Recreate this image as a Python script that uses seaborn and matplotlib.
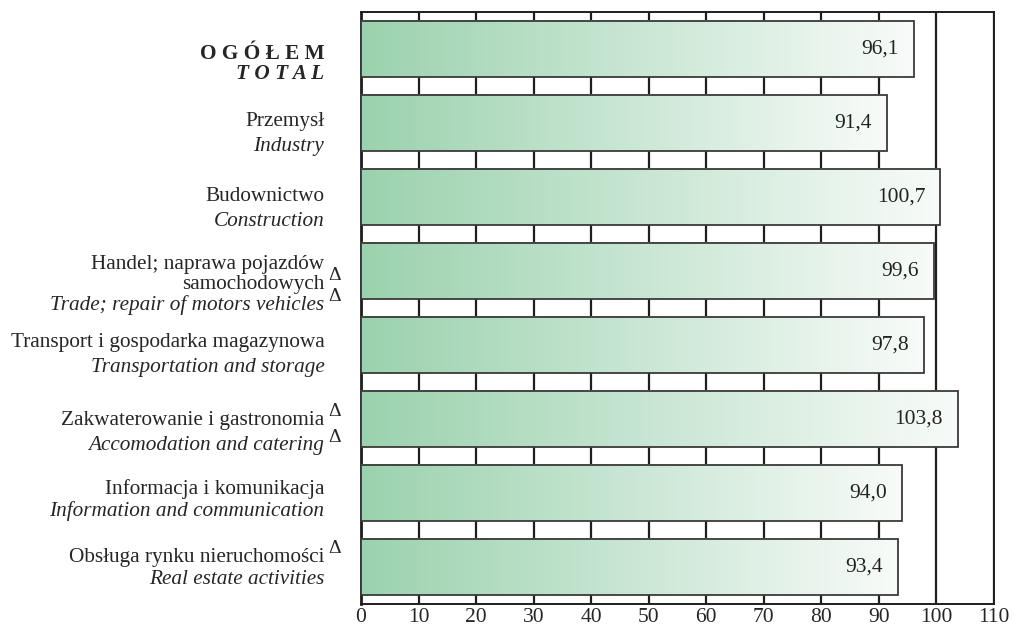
import numpy as np
import pandas as pd
import matplotlib
matplotlib.use('Agg')
import matplotlib.pyplot as plt
import seaborn as sns
from matplotlib.colors import LinearSegmentedColormap
from matplotlib.transforms import blended_transform_factory

# data
labels_pl = ['O G Ó Ł E M', 'Przemysł', 'Budownictwo',
             'Handel; naprawa pojazdów\nsamochodowych', 'Transport i gospodarka magazynowa',
             'Zakwaterowanie i gastronomia', 'Informacja i komunikacja',
             'Obsługa rynku nieruchomości']
labels_en = ['T O T A L', 'Industry', 'Construction', 'Trade; repair of motors vehicles',
             'Transportation and storage', 'Accomodation and catering',
             'Information and communication', 'Real estate activities']
values = [96.1, 91.4, 100.7, 99.6, 97.8, 103.8, 94.0, 93.4]
xticks = [0, 10, 20, 30, 40, 50, 60, 70, 80, 90, 100, 110]
delta_pl = [False, False, False, True, False, True, False, True]
delta_en = [False, False, False, True, False, True, False, False]

# vertical placement of the two label lines, in pixels from the bar centre
off_pl = [5, -1, 0, -6, -3, 1, -4, -10]
off_en = [25, 24, 25, 34, 22, 26, 18, 12]

sns.set_style('white')
plt.rcParams['font.family'] = ['Liberation Serif', 'DejaVu Serif']

df = pd.DataFrame({'sector': labels_pl, 'value': values})

fig = plt.figure(figsize=(10.14, 6.26), dpi=100)
ax = fig.add_axes([0.356, 0.035, 0.624, 0.946])

sns.barplot(data=df, x='value', y='sector', orient='h', width=0.757,
            color='white', edgecolor='#3a3a3a', linewidth=1.3, saturation=1, ax=ax)

# gradient fill inside every bar: green on the left, fading to white at the bar end
cmap = LinearSegmentedColormap.from_list('grn', ['#9bd2ae', '#f8fbf9'])
grad = np.linspace(0, 1, 256).reshape(1, -1)
for p in ax.patches:
    p.set_facecolor('none')
    p.set_zorder(4)
    x0, y0 = p.get_x(), p.get_y()
    w, h = p.get_width(), p.get_height()
    ax.imshow(grad, cmap=cmap, aspect='auto', extent=[x0, x0 + w, y0 + h, y0],
              zorder=3, interpolation='bilinear')

ax.set_xlim(0, 110)
ax.set_ylim(len(values) - 0.5, -0.5)
ax.set_xticks(xticks)
ax.set_xlabel('')
ax.set_ylabel('')
ax.set_yticks([])
ax.set_axisbelow(True)
ax.xaxis.grid(True, color='#1e1e1e', linewidth=1.6)
ax.tick_params(axis='x', length=0, labelsize=15.5, pad=3)
for s in ax.spines.values():
    s.set_visible(True)
    s.set_color('#1e1e1e')
    s.set_linewidth(1.4)
ax.spines['left'].set_linewidth(2)

# value labels
for i, v in enumerate(values):
    ax.text(v - 2.6, i, f'{v:.1f}'.replace('.', ','), ha='right', va='center',
            fontsize=15.5, color='#222222', zorder=5)

# category labels (Polish regular, English italic)
fs = 15.3
px = 1 / 74.0  # one pixel in data units along y
tr = blended_transform_factory(ax.transAxes, ax.transData)
lx = -0.058
dx = -0.052
for i in range(len(values)):
    bold = i == 0
    yp = i + off_pl[i] * px
    ye = i + off_en[i] * px
    if '\n' in labels_pl[i]:
        top, bottom = labels_pl[i].split('\n')
        ax.text(lx, yp, top, transform=tr, ha='right', va='center', fontsize=fs)
        yp = yp + 20 * px
        ax.text(lx, yp, bottom, transform=tr, ha='right', va='center', fontsize=fs)
    else:
        ax.text(lx, yp, labels_pl[i], transform=tr, ha='right', va='center',
                fontsize=fs, fontweight='bold' if bold else 'normal')
    ax.text(lx, ye, labels_en[i], transform=tr, ha='right', va='center',
            fontsize=fs, style='italic', fontweight='bold' if bold else 'normal')
    if delta_pl[i]:
        ax.text(dx, yp - 9 * px, 'Δ', transform=tr, ha='left', va='center', fontsize=14)
    if delta_en[i]:
        ax.text(dx, ye - 8 * px, 'Δ', transform=tr, ha='left', va='center', fontsize=14)

fig.savefig('out.png', dpi=100)
